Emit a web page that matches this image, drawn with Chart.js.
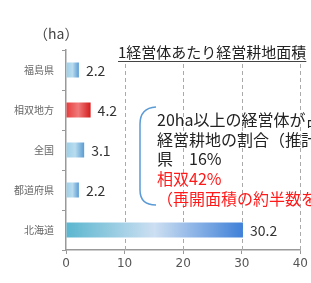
<!DOCTYPE html>
<html>
<head>
<meta charset="utf-8">
<script src="https://cdn.jsdelivr.net/npm/chart.js@4/dist/chart.umd.min.js"></script>
<style>
  html, body { margin: 0; padding: 0; background: #fff; }
  #wrap { width: 311px; height: 283px; position: relative; }
</style>
</head>
<body>
<div id="wrap"><canvas id="areaChart"></canvas></div>
<script>
// 1経営体あたり経営耕地面積 (ha)
const regions = ['福島県', '相双地方', '全国', '都道府県', '北海道'];
const areaHa = [2.2, 4.2, 3.1, 2.2, 30.2];
const valueLabels = ['2.2', '4.2', '3.1', '2.2', '30.2'];
const xTicks = [0, 10, 20, 30, 40];

const titleText = '1経営体あたり経営耕地面積';
const unitText = '（ha）';
const noteLines = ['20ha以上の経営体が占める', '経営耕地の割合（推計）', '県　16%'];
const noteRedLines = ['相双42%', '（再開面積の約半数を'];

// 棒の色 (左, 中, 右)
const barColors = [
    ['#9ccfe6', '#b9dcef', '#5a9bd2'],
    ['#e63b3b', '#f07a7a', '#d41c1c'],
    ['#9ccfe6', '#b9dcef', '#5a9bd2'],
    ['#9ccfe6', '#b9dcef', '#5a9bd2'],
    ['#5ab6cf', '#cddff2', '#3f80d8']
];

function barGradient(context) {
    const chart = context.chart;
    const xScale = chart.scales.x;
    if (!xScale || context.dataIndex === undefined) return barColors[0][2];
    const c = barColors[context.dataIndex];
    const x0 = xScale.getPixelForValue(0);
    const x1 = xScale.getPixelForValue(areaHa[context.dataIndex]);
    if (!isFinite(x0) || !isFinite(x1) || x1 - x0 < 1) return c[2];
    const g = chart.ctx.createLinearGradient(x0, 0, x1, 0);
    g.addColorStop(0, c[0]);
    g.addColorStop(0.5, c[1]);
    g.addColorStop(1, c[2]);
    return g;
}

// 縦の破線グリッド
const dashGridPlugin = {
    id: 'dashGrid',
    beforeDatasetsDraw(chart) {
        const ctx = chart.ctx;
        const xs = chart.scales.x;
        const area = chart.chartArea;
        ctx.save();
        ctx.strokeStyle = '#aaa';
        ctx.lineWidth = 1;
        ctx.setLineDash([4, 3]);
        xs.ticks.forEach(t => {
            if (t.value === 0) return;
            const x = Math.round(xs.getPixelForValue(t.value)) + 0.5;
            ctx.beginPath();
            ctx.moveTo(x, area.top);
            ctx.lineTo(x, area.bottom);
            ctx.stroke();
        });
        ctx.restore();
    }
};

// 値ラベル、タイトル、注記
const extrasPlugin = {
    id: 'extras',
    afterDatasetsDraw(chart) {
        const ctx = chart.ctx;
        const meta = chart.getDatasetMeta(0);
        ctx.save();
        ctx.font = '14px "Noto Sans CJK JP", sans-serif';
        ctx.fillStyle = '#333';
        ctx.textBaseline = 'middle';
        ctx.textAlign = 'left';
        meta.data.forEach((bar, i) => {
            ctx.fillText(valueLabels[i], bar.x + 7, bar.y + 1);
        });

        // 単位
        ctx.font = '14px "Noto Sans CJK JP", sans-serif';
        ctx.fillStyle = '#444';
        ctx.fillText(unitText, 34, 34);

        // タイトル (白地)
        ctx.font = '15px "Noto Sans CJK JP", sans-serif';
        const w = ctx.measureText(titleText).width;
        ctx.fillStyle = '#fff';
        ctx.fillRect(116, 40, w + 4, 24);
        ctx.fillStyle = '#222';
        ctx.textBaseline = 'alphabetic';
        ctx.fillText(titleText, 118, 58);
        ctx.strokeStyle = '#444';
        ctx.lineWidth = 1;
        ctx.beginPath();
        ctx.moveTo(118, 61.5);
        ctx.lineTo(118 + w, 61.5);
        ctx.stroke();

        // 注記の括弧
        ctx.strokeStyle = '#5b9bd5';
        ctx.lineWidth = 1.5;
        ctx.beginPath();
        ctx.moveTo(156, 107);
        ctx.quadraticCurveTo(140, 108, 140, 124);
        ctx.lineTo(140, 190);
        ctx.quadraticCurveTo(140, 205, 156, 205);
        ctx.stroke();

        // 注記テキスト
        ctx.font = '16px "Noto Sans CJK JP", sans-serif';
        ctx.textBaseline = 'middle';
        ctx.fillStyle = '#222';
        noteLines.forEach((t, i) => ctx.fillText(t, 157, 120 + i * 19.5));
        ctx.fillStyle = '#ff1a1a';
        noteRedLines.forEach((t, i) => ctx.fillText(t, 157, 179 + i * 19.5));
        ctx.restore();
    }
};

const ctx = document.getElementById('areaChart').getContext('2d');
new Chart(ctx, {
    type: 'bar',
    data: {
        labels: regions,
        datasets: [{
            data: areaHa,
            backgroundColor: barGradient,
            borderWidth: 0,
            barPercentage: 0.38,
            categoryPercentage: 1
        }]
    },
    options: {
        indexAxis: 'y',
        responsive: true,
        maintainAspectRatio: false,
        animation: false,
        layout: { padding: { top: 50, right: 0, left: 0, bottom: 0 } },
        plugins: {
            legend: { display: false },
            tooltip: { enabled: false }
        },
        scales: {
            x: {
                min: 0,
                max: 40,
                afterBuildTicks(scale) {
                    scale.ticks = xTicks.map(v => ({ value: v }));
                },
                afterFit(scale) { scale.height = 33; },
                border: { color: '#999', width: 1.5 },
                grid: {
                    drawOnChartArea: false,
                    tickColor: '#999',
                    tickLength: 4
                },
                ticks: {
                    color: '#555',
                    padding: 3,
                    font: { size: 12, family: 'DejaVu Sans' }
                }
            },
            y: {
                afterFit(scale) { scale.width = 66; },
                border: { color: '#999', width: 1.5 },
                grid: {
                    drawOnChartArea: false,
                    tickColor: '#999',
                    tickLength: 4,
                    offset: true
                },
                ticks: {
                    color: '#666',
                    padding: 8,
                    font: { size: 10, family: '"Noto Sans CJK JP", sans-serif' }
                }
            }
        }
    },
    plugins: [dashGridPlugin, extrasPlugin]
});
</script>
</body>
</html>
